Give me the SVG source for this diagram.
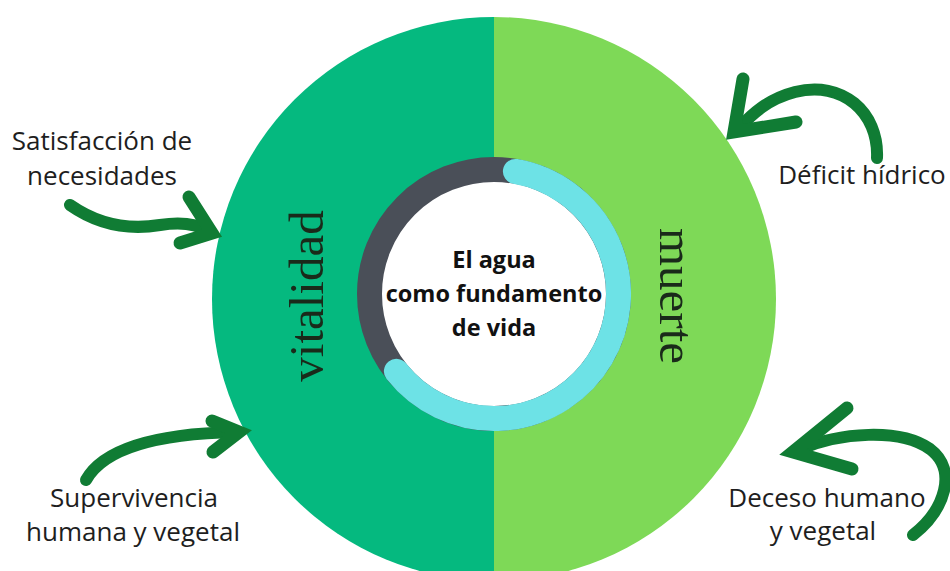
<svg xmlns="http://www.w3.org/2000/svg" width="950" height="571" viewBox="0 0 950 571">
<style>
.lbl{font-family:"Open Sans","Noto Sans","Liberation Sans",sans-serif;font-size:26px;fill:#1e1e1e;text-anchor:middle}
.ctr{font-family:"Open Sans","Noto Sans","Liberation Sans",sans-serif;font-size:23.5px;font-weight:bold;fill:#111;text-anchor:middle}
.big{font-family:"Liberation Serif","DejaVu Serif",serif;font-size:49px;fill:#1a2a1a;text-anchor:middle}
.arr{fill:none;stroke:#107c34;stroke-width:12;stroke-linecap:round;stroke-linejoin:round}
.hd{fill:none;stroke:#107c34;stroke-width:13;stroke-linecap:round;stroke-linejoin:miter}
</style>
<rect width="950" height="571" fill="#ffffff"/>
<g id="circle">
<path d="M494 17 A282 282 0 0 0 494 581 Z" fill="#05b97f"/>
<path d="M494 17 A282 282 0 0 1 494 581 Z" fill="#7ed957"/>
</g>
<g id="ring">
<circle cx="494" cy="294" r="124.5" fill="#ffffff" stroke="#4a4f58" stroke-width="25"/>
<path d="M396.4 371.3 A124.5 124.5 0 1 0 515.4 171.4" fill="none" stroke="#6de2e6" stroke-width="25" stroke-linecap="round"/>
</g>
<g id="center-label">
<text class="ctr" x="494" y="268">El agua</text>
<text class="ctr" x="494" y="302">como fundamento</text>
<text class="ctr" x="494" y="336">de vida</text>
</g>
<g id="vitalidad">
<text class="big" transform="translate(323 296) rotate(-90)">vitalidad</text>
</g>
<g id="muerte">
<text class="big" transform="translate(660 296) rotate(90)">muerte</text>
</g>
<g id="connectors">
<path class="arr" d="M70 205 C100 226 130 230 160 225 C185 221 200 226 208 231"/>
<path class="hd" d="M189 197 L212 233 L180 243"/>
<path class="arr" d="M86 480 C100 455 140 434 236 432"/>
<path class="hd" d="M212 421 L239 432 L213 452"/>
<path class="arr" d="M877 158 C879 112 842 80 795 92 C768 99 752 114 739 128"/>
<path class="hd" d="M743 79 L734 132 L796 122"/>
<path class="arr" d="M913 535 C945 510 958 470 930 449 C900 428 840 432 798 450"/>
<path class="hd" d="M847 408 L793 452 L852 469"/>
</g>
<g id="label-satisfaccion">
<text class="lbl" x="102" y="150">Satisfacción de</text>
<text class="lbl" x="102" y="185">necesidades</text>
</g>
<g id="label-supervivencia">
<text class="lbl" x="134" y="507">Supervivencia</text>
<text class="lbl" x="133" y="541">humana y vegetal</text>
</g>
<g id="label-deficit">
<text class="lbl" x="862" y="184">Déficit hídrico</text>
</g>
<g id="label-deceso">
<text class="lbl" x="827" y="507">Deceso humano</text>
<text class="lbl" x="823" y="540">y vegetal</text>
</g>
</svg>
